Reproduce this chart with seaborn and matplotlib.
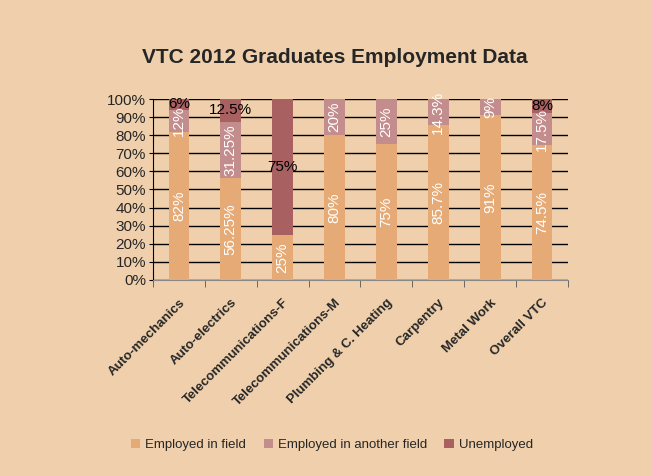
import numpy as np
import pandas as pd
import matplotlib
matplotlib.use("Agg")
import matplotlib.pyplot as plt
import seaborn as sns
from matplotlib.patches import Patch

# data
programs = ["Auto-mechanics", "Auto-electrics", "Telecommunications-F", "Telecommunications-M",
            "Plumbing & C. Heating", "Carpentry", "Metal Work", "Overall VTC"]
employed_field = [82, 56.25, 25, 80, 75, 85.7, 91, 74.5]
employed_other = [12, 31.25, 0, 20, 25, 14.3, 9, 17.5]
unemployed = [6, 12.5, 75, 0, 0, 0, 0, 8]
series_names = ["Employed in field", "Employed in another field", "Unemployed"]

bg = "#F0D0AC"
colors = ["#E5AA75", "#C48D8D", "#A86060"]
label_colors = ["white", "white", "black"]
label_rot = [90, 90, 0]

sns.set_style("white")
plt.rcParams["font.family"] = ["Liberation Sans", "DejaVu Sans"]

fig = plt.figure(figsize=(6.51, 4.76), dpi=100, facecolor=bg)
ax = fig.add_axes([0.235, 0.412, 0.6375, 0.38])
ax.set_facecolor(bg)

df = pd.DataFrame({"program": programs, series_names[0]: employed_field,
                   series_names[1]: employed_other, series_names[2]: unemployed})

bottom = np.zeros(len(programs))
for name, col, tc, rot in zip(series_names, colors, label_colors, label_rot):
    vals = df[name].to_numpy(dtype=float)
    sns.barplot(data=df, x="program", y=name, order=programs, color=col,
                bottom=bottom, width=0.4, saturation=1, ax=ax, zorder=3,
                edgecolor="none", linewidth=0)
    for i, (v, b) in enumerate(zip(vals, bottom)):
        if v <= 0:
            continue
        ax.text(i, b + v / 2, f"{v:g}%", color=tc, rotation=rot, ha="center", va="center",
                fontsize=11, zorder=5)
    bottom = bottom + vals

ax.set_ylim(0, 100)
ax.set_xlim(-0.5, len(programs) - 0.5)
ax.set_yticks(np.arange(0, 101, 10))
ax.set_yticklabels([f"{t}%" for t in range(0, 101, 10)], fontsize=11)
ax.yaxis.grid(True, color="black", linewidth=1)
ax.set_axisbelow(True)
ax.tick_params(axis="y", length=3, color="black", pad=2, left=True)

ax.set_xticks(np.arange(len(programs)))
ax.set_xticklabels(programs, rotation=45, ha="right", rotation_mode="anchor",
                   fontsize=9.5, fontweight="bold")
ax.tick_params(axis="x", length=0, pad=12)
ax.set_xticks(np.arange(len(programs) + 1) - 0.5, minor=True)
ax.tick_params(axis="x", which="minor", length=5, color="#555555", bottom=True)
ax.set_xlabel("")
ax.set_ylabel("")

for s in ["top", "right"]:
    ax.spines[s].set_visible(False)
ax.spines["left"].set_color("black")
ax.spines["bottom"].set_color("#888888")

fig.text(0.515, 0.88, "VTC 2012 Graduates Employment Data", ha="center", va="center",
         fontsize=15, fontweight="bold")

handles = [Patch(facecolor=c, edgecolor="none") for c in colors]
fig.legend(handles, series_names, loc="center", bbox_to_anchor=(0.51, 0.065), ncol=3,
           frameon=False, handlelength=0.7, handleheight=0.7,
           columnspacing=1.3, handletextpad=0.4, prop={"size": 9.5})

fig.savefig("out.png", dpi=100, facecolor=bg)
